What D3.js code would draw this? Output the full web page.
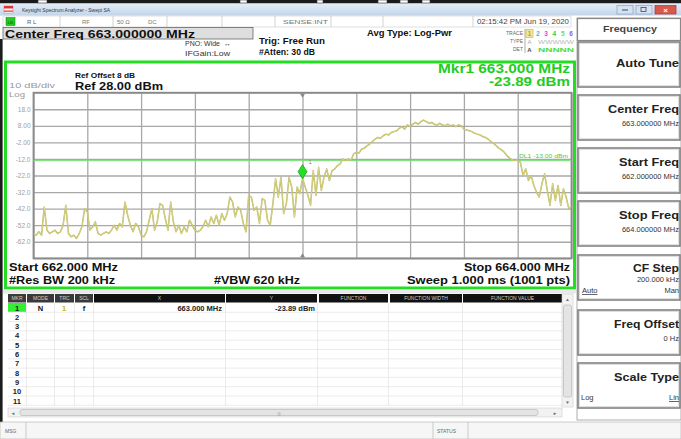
<!DOCTYPE html>
<html><head><meta charset="utf-8">
<script src="https://cdn.jsdelivr.net/npm/d3@7"></script>
<style>html,body{margin:0;padding:0;background:#fff;overflow:hidden}svg{display:block;font-family:"Liberation Sans",Arial,sans-serif}</style>
</head><body><svg id="c" width="681" height="439"></svg>
<script>
// ---------- data ----------
const startFreqMHz = 662, stopFreqMHz = 664, freqStepMHz = 0.01;
const refLevelDbm = 28, bottomLevelDbm = -72;
const traceDbm = [
-57,-58,-56,-58,-41,-55,-57,-56,-55,-57,
-56,-52,-40,-57,-59,-58,-60,-57,-53,-42,
-44,-55,-53,-50,-57,-58,-57,-56,-57,-55,
-52,-55,-51,-53,-38,-46,-52,-56,-51,-53,
-58,-59,-56,-49,-42,-55,-50,-39,-40,-48,
-55,-38,-50,-56,-52,-57,-53,-56,-49,-52,
-55,-56,-55,-53,-49,-53,-47,-51,-46,-52,
-45,-49,-45,-35,-38,-47,-41,-43,-51,-56,
-34,-35,-43,-41,-51,-36,-37,-49,-52,-39,
-24,-35,-23,-45,-39,-23,-29,-47,-29,-33,
-23.89,-29,-34,-40,-19,-34,-17,-31,-23,-18,
-25,-19,-18,-16,-15,-12,-13,-12,-13,-9,
-8,-8.5,-6,-5.5,-4,-3,-1.5,0,1,0.5,
2,3,2.5,4,4.5,5,6.5,7.5,6,8.5,
7.5,9,10,9,10.5,11.5,10.5,9.5,10,9,
8.5,9.5,8.5,8,9,8,8.5,7.5,8.5,8,
6,5.5,5,4.5,3.5,3,2.5,1.5,1,0,
-1.5,-2.5,-4,-5.5,-6.5,-8,-10,-11.5,-12.5,-13,
-12.5,-14,-22,-18,-25,-22,-28,-32,-35,-27,
-21,-31,-40,-27,-37,-28,-40,-30,-35,-42,
-41
];
const gridDbm = [28,18,8,-2,-12,-22,-32,-42,-52,-62,-72];
const yTickLabels = ["","18.0","8.00","-2.00","-12.0","-22.0","-32.0","-42.0","-52.0","-62.0",""];
const gridFreqMHz = [662,662.2,662.4,662.6,662.8,663,663.2,663.4,663.6,663.8,664];
const markerFreqMHz = 663, markerDbm = -23.89;
const displayLineDbm = -13;
const tableHeaders = ["MKR","MODE","TRC","SCL","X","Y","FUNCTION","FUNCTION WIDTH","FUNCTION VALUE"];
const markerRowNames = ["1","2","3","4","5","6","7","8","9","10","11"];
const softkeyLabels = ["Auto Tune","Center Freq","Start Freq","Stop Freq","CF Step","Freq Offset","Scale Type"];
const softkeyValues = ["","663.000000 MHz","662.000000 MHz","664.000000 MHz","200.000 kHz","0 Hz",""];
const traceNums = ["1","2","3","4","5","6"];

// ---------- helpers ----------
const svg = d3.select("#c");
function txt(p, x, y, s, o = {}) {
  const t = p.append("text").attr("x", x).attr("y", y).text(s)
    .attr("font-size", o.size || 8).attr("font-weight", o.bold ? "bold" : "normal")
    .attr("fill", o.color || "#111").attr("text-anchor", o.anchor || "start");
  if (o.len) t.attr("textLength", o.len).attr("lengthAdjust", "spacingAndGlyphs");
  if (o.deco) t.attr("text-decoration", o.deco);
  return t;
}
function rect(p, x, y, w, h, fill, stroke, sw) {
  return p.append("rect").attr("x", x).attr("y", y).attr("width", w).attr("height", h)
    .attr("fill", fill || "none").attr("stroke", stroke || "none").attr("stroke-width", sw || 1);
}

// ---------- window chrome ----------
const defs = svg.append("defs");
const tg = defs.append("linearGradient").attr("id", "tb").attr("x1", 0).attr("y1", 0).attr("x2", 0).attr("y2", 1);
tg.append("stop").attr("offset", "0").attr("stop-color", "#e4edf8");
tg.append("stop").attr("offset", "1").attr("stop-color", "#c3d4ea");
rect(svg, 0, 0, 681, 3.5, "#1a1a1a");
[[38,9],[240,7],[317,6],[378,9],[400,8],[422,8]].forEach(d => rect(svg, d[0], 0, d[1], 3, "#fff", "#333", 0.6));
rect(svg, 0, 3.5, 681, 12, "url(#tb)");
rect(svg, 4, 6, 9, 7, "#fff", "#999", 0.5);
rect(svg, 4, 6, 9, 2.5, "#d33");
rect(svg, 4, 10.5, 9, 1.2, "#d33");
txt(svg, 22, 12, "Keysight Spectrum Analyzer - Swept SA", {size: 6, color: "#333", len: 88});
rect(svg, 617, 5.5, 16, 8.5, "#d6e2f2", "#8aa0c0", 0.7);
svg.append("line").attr("x1", 622).attr("x2", 628).attr("y1", 10).attr("y2", 10).attr("stroke", "#445").attr("stroke-width", 1);
rect(svg, 636, 5.5, 16, 8.5, "#d6e2f2", "#8aa0c0", 0.7);
rect(svg, 641, 7.5, 5, 4, "none", "#445", 0.8);
rect(svg, 655, 5.5, 21, 8.5, "#d9584c", "#a33", 0.7);
txt(svg, 665.5, 12.5, "×", {size: 8, color: "#fff", anchor: "middle", bold: true});

// status row
rect(svg, 3, 16, 568, 11, "#fff", "#c8c8c8", 0.6);
rect(svg, 6, 17.5, 9, 8, "#22cc22", "#117711", 0.5);
txt(svg, 10.5, 24, "LXI", {size: 3.5, anchor: "middle", color: "#030"});
[60,113,167,222,275,331,383,473].forEach(x => svg.append("line").attr("x1", x).attr("x2", x).attr("y1", 16).attr("y2", 27).attr("stroke", "#c8c8c8").attr("stroke-width", 0.8));
txt(svg, 27, 24, "R L", {size: 6, color: "#555"});
txt(svg, 82, 24, "RF", {size: 6, color: "#777"});
txt(svg, 117, 24, "50 Ω", {size: 6, color: "#777"});
txt(svg, 148, 24, "DC", {size: 6, color: "#777"});
txt(svg, 283, 24, "SENSE:INT", {size: 6, color: "#777", len: 45});
txt(svg, 569, 24, "02:15:42 PM Jun 19, 2020", {size: 6.5, color: "#444", anchor: "end", len: 92});

// center freq box
rect(svg, 3, 27.5, 250, 11.5, "#dedede", "#666", 0.8);
txt(svg, 5, 37.5, "Center Freq 663.000000 MHz", {size: 11.5, bold: true, color: "#111", len: 190});

txt(svg, 185, 46, "PNO: Wide", {size: 7, color: "#333", len: 35});
txt(svg, 224, 46, "↔", {size: 7, color: "#333"});
txt(svg, 185, 56, "IFGain:Low", {size: 7, color: "#333", len: 45});
txt(svg, 259, 44, "Trig: Free Run", {size: 8.5, bold: true, len: 66});
txt(svg, 259, 55, "#Atten: 30 dB", {size: 8.5, bold: true, len: 56});
txt(svg, 367, 36, "Avg Type: Log-Pwr", {size: 8.5, bold: true, len: 85});
txt(svg, 523, 35, "TRACE", {size: 5, color: "#666", anchor: "end"});
txt(svg, 523, 43, "TYPE", {size: 5, color: "#666", anchor: "end"});
txt(svg, 523, 51, "DET", {size: 5, color: "#666", anchor: "end"});
svg.append("line").attr("x1", 525).attr("x2", 525).attr("y1", 29).attr("y2", 53).attr("stroke", "#999").attr("stroke-width", 0.8);
const trColors = ["#c8a000", "#22c8e0", "#e040e0", "#33cc33", "#66dd66", "#9060e0"];
rect(svg, 526, 29.5, 7, 8, "#f4e8a0", "#c8b040", 0.6);
traceNums.forEach((t, i) => txt(svg, 529.5 + i * 8.3, 36, t, {size: 6.5, bold: true, color: trColors[i], anchor: "middle"}));
txt(svg, 529.5, 44, "A", {size: 6, color: "#aaa", anchor: "middle"});
txt(svg, 538, 44, "WWWWW", {size: 5, color: "#bbb", len: 36});
txt(svg, 529.5, 52, "A", {size: 6, bold: true, color: "#444", anchor: "middle"});
txt(svg, 538, 52, "NNNNN", {size: 6, bold: true, color: "#44dd44", len: 36});

// left dark edge
rect(svg, 0, 39, 2.6, 400, "#1c1c1c");

// ---------- plot frame ----------
rect(svg, 5.5, 62, 569, 226, "#fff", "#22dd22", 3);

const x = d3.scaleLinear().domain([startFreqMHz, stopFreqMHz]).range([33.5, 571.5]);
const y = d3.scaleLinear().domain([bottomLevelDbm, refLevelDbm]).range([258.3, 92.7]);
const plot = svg.append("g");

const gy = plot.append("g").attr("transform", `translate(${x(startFreqMHz)},0)`)
  .call(d3.axisLeft(y).tickValues(gridDbm).tickSize(-(x(stopFreqMHz) - x(startFreqMHz)))
    .tickPadding(3).tickFormat((d, i) => yTickLabels[i]));
gy.select(".domain").remove();
gy.selectAll("line").attr("stroke", "#a8a8a8").attr("stroke-width", 1.3);
gy.selectAll("text").attr("font-size", 6.5).attr("fill", "#a0a0a0").attr("font-family", "Liberation Sans, Arial");

const gx = plot.append("g").attr("transform", `translate(0,${y(bottomLevelDbm)})`)
  .call(d3.axisBottom(x).tickValues(gridFreqMHz).tickSize(-(y(bottomLevelDbm) - y(refLevelDbm))).tickFormat(""));
gx.select(".domain").remove();
gx.selectAll("line").attr("stroke", "#a8a8a8").attr("stroke-width", 1.3);

rect(plot, x(startFreqMHz), y(refLevelDbm), x(stopFreqMHz) - x(startFreqMHz), y(bottomLevelDbm) - y(refLevelDbm), "none", "#8a8a8a", 1.8);

// trigger triangles
const cx = x(markerFreqMHz);
plot.append("path").attr("d", `M${cx - 2.5},${y(refLevelDbm) + 1}L${cx + 2.5},${y(refLevelDbm) + 1}L${cx},${y(refLevelDbm) + 5}Z`).attr("fill", "#888");
plot.append("path").attr("d", `M${cx - 2.5},${y(bottomLevelDbm) - 1}L${cx + 2.5},${y(bottomLevelDbm) - 1}L${cx},${y(bottomLevelDbm) - 5}Z`).attr("fill", "#888");

// display line
plot.append("line").attr("x1", x(startFreqMHz)).attr("x2", x(stopFreqMHz)).attr("y1", y(displayLineDbm)).attr("y2", y(displayLineDbm))
  .attr("stroke", "#77e077").attr("stroke-width", 1);
txt(plot, 568, y(displayLineDbm) - 3, "DL1 -13.00 dBm", {size: 5, color: "#44cc44", anchor: "end", len: 49});

// trace
defs.append("clipPath").attr("id", "pc").append("rect").attr("x", x(startFreqMHz)).attr("y", y(refLevelDbm))
  .attr("width", x(stopFreqMHz) - x(startFreqMHz)).attr("height", y(bottomLevelDbm) - y(refLevelDbm));
const line = d3.line().x((d, i) => x(startFreqMHz + i * freqStepMHz)).y(d => y(d));
const tr = plot.append("g").attr("clip-path", "url(#pc)");
tr.append("path").datum(traceDbm).attr("d", line).attr("fill", "none").attr("stroke", "#b8b454").attr("stroke-width", 1.5).attr("stroke-linejoin", "round");
tr.append("path").datum(traceDbm).attr("d", line).attr("fill", "none").attr("stroke", "#ecea b0".replace(" ", "")).attr("stroke-width", 0.5).attr("stroke-linejoin", "round");

// marker
const my = y(markerDbm);
plot.append("path").attr("d", `M${cx},${my}L${cx + 4.5},${my - 7}L${cx},${my - 14}L${cx - 4.5},${my - 7}Z`)
  .attr("fill", "#22e022").attr("stroke", "#119911").attr("stroke-width", 0.7);
txt(plot, cx + 6, my - 15, "1", {size: 6, color: "#8a8a30"});

// annotations in frame
txt(svg, 75, 78, "Ref Offset 8 dB", {size: 8, bold: true, len: 60});
txt(svg, 75, 90, "Ref 28.00 dBm", {size: 11, bold: true, len: 88});
txt(svg, 9, 88, "10 dB/div", {size: 7.5, color: "#999", len: 46});
txt(svg, 9, 96.5, "Log", {size: 7.5, color: "#999", len: 16});
txt(svg, 570, 72.5, "Mkr1 663.000 MHz", {size: 12, bold: true, color: "#22cc22", anchor: "end", len: 132});
txt(svg, 570, 86, "-23.89 dBm", {size: 12, bold: true, color: "#22cc22", anchor: "end", len: 81});
txt(svg, 9, 271, "Start 662.000 MHz", {size: 10, bold: true, len: 109});
txt(svg, 570, 271, "Stop 664.000 MHz", {size: 10, bold: true, anchor: "end", len: 106});
txt(svg, 9, 284, "#Res BW 200 kHz", {size: 10, bold: true, len: 106});
txt(svg, 214, 284, "#VBW 620 kHz", {size: 10, bold: true, len: 86});
txt(svg, 570, 284, "Sweep  1.000 ms (1001 pts)", {size: 10, bold: true, anchor: "end", len: 163});

// ---------- marker table ----------
rect(svg, 3, 289.5, 573, 4, "#e8e8e8");
const colB = [[8,26],[27,54],[55,74],[75,93],[94,225],[226,317],[319,388],[390,462],[463,562]];
const hy = 294, hh = 8.5;
colB.forEach((c, i) => {
  rect(svg, c[0], hy, c[1] - c[0], hh, i < 4 ? "#3a3a3a" : "#111");
  txt(svg, (c[0] + c[1]) / 2, hy + 6.3, tableHeaders[i], {size: 5, color: "#d0d0d0", anchor: "middle"});
});
const rowH = 9.3, r0 = 303;
markerRowNames.forEach((r, i) => {
  const ry = r0 + i * rowH;
  svg.append("line").attr("x1", 8).attr("x2", 562).attr("y1", ry + rowH).attr("y2", ry + rowH).attr("stroke", "#e6e6e6").attr("stroke-width", 0.8);
  if (i === 0) rect(svg, 8, ry, 18, rowH - 0.5, "#33ee33");
  txt(svg, 17, ry + 7.5, r, {size: 7.5, bold: true, color: "#222", anchor: "middle"});
});
colB.forEach(c => svg.append("line").attr("x1", c[1] + 0.5).attr("x2", c[1] + 0.5).attr("y1", r0).attr("y2", r0 + 11 * rowH).attr("stroke", "#e6e6e6").attr("stroke-width", 0.8));
txt(svg, 40.5, r0 + 7.5, "N", {size: 7.5, bold: true, anchor: "middle"});
txt(svg, 64, r0 + 7.5, "1", {size: 7.5, bold: true, color: "#c8b400", anchor: "middle"});
txt(svg, 84, r0 + 7.5, "f", {size: 7.5, bold: true, anchor: "middle"});
txt(svg, 222, r0 + 7.5, "663.000 MHz", {size: 7.5, bold: true, anchor: "end", color: "#222"});
txt(svg, 315, r0 + 7.5, "-23.89 dBm", {size: 7.5, bold: true, anchor: "end", color: "#222"});
// scrollbars
rect(svg, 562, 294, 11, 113, "#f2f2f2", "#ccc", 0.6);
rect(svg, 563.5, 305, 8, 92, "#e4e4e4", "#b0b0b0", 0.6).attr("rx", 2);
txt(svg, 567.5, 300.5, "▲", {size: 4.5, color: "#666", anchor: "middle"});
txt(svg, 567.5, 404, "▼", {size: 4.5, color: "#666", anchor: "middle"});
rect(svg, 8, 408, 554, 9, "#f2f2f2", "#ccc", 0.6);
rect(svg, 20, 409.5, 518, 6, "#e4e4e4", "#b0b0b0", 0.6).attr("rx", 2);
txt(svg, 13, 414.5, "◄", {size: 4.5, color: "#666", anchor: "middle"});
txt(svg, 555, 414.5, "►", {size: 4.5, color: "#666", anchor: "middle"});
txt(svg, 279, 414.5, "|||", {size: 4, color: "#999", anchor: "middle"});

// MSG bar
rect(svg, 0, 422, 681, 17, "#f6f6f6", "#b8b8b8", 0.7);
txt(svg, 5, 433, "MSG", {size: 5, color: "#666"});
[26, 433, 468].forEach(xx => svg.append("line").attr("x1", xx).attr("x2", xx).attr("y1", 422).attr("y2", 439).attr("stroke", "#c0c0c0").attr("stroke-width", 0.8));
txt(svg, 437, 433, "STATUS", {size: 5, color: "#666"});

// ---------- softkey panel ----------
rect(svg, 577, 18, 104, 402, "#fff", "#999", 0.8);
rect(svg, 577.5, 18.5, 103, 22, "#fff", "#888", 1.2);
txt(svg, 630, 32, "Frequency", {size: 9.5, bold: true, color: "#444", anchor: "middle", len: 54});
const skTop = [42, 95, 148, 201, 255, 310, 363];
const skLen = [63, 71, 60, 60, 46, 65, 65];
softkeyLabels.forEach((l, i) => {
  const t = skTop[i];
  rect(svg, 578, t, 102, 45, "#fff", "#7a7a7a", 1.5);
  rect(svg, 579.5, t + 1.5, 99, 42, "none", "#d8d8d8", 0.8);
  const ly = l === "Auto Tune" ? t + 25 : (l === "CF Step" ? t + 16.5 : t + 18);
  txt(svg, 679, ly, l, {size: 10.5, bold: true, color: "#222", anchor: "end", len: skLen[i]});
  if (softkeyValues[i]) {
    const vy = l === "CF Step" ? t + 26.5 : t + 31;
    txt(svg, 679, vy, softkeyValues[i], {size: 7.5, color: "#333", anchor: "end"});
  }
});
txt(svg, 582, 293, "Auto", {size: 7.5, color: "#333", deco: "underline"});
txt(svg, 679, 293, "Man", {size: 7.5, color: "#333", anchor: "end"});
txt(svg, 581, 400, "Log", {size: 7.5, color: "#333"});
txt(svg, 679, 400, "Lin", {size: 7.5, color: "#333", anchor: "end", deco: "underline"});
</script></body></html>
